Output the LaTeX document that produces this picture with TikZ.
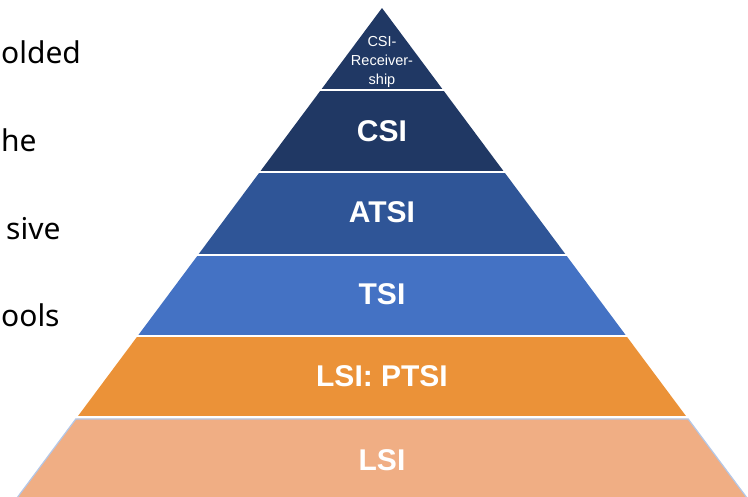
\documentclass[tikz,border=0pt]{standalone}
\usepackage{fontspec}
\setmainfont{Liberation Sans}
\newfontfamily\slidefont{Noto Sans}

\definecolor{navy}{HTML}{203864}
\definecolor{midblue}{HTML}{2F5597}
\definecolor{brightblue}{HTML}{4472C4}
\definecolor{deeporange}{HTML}{EB9238}
\definecolor{paleorange}{HTML}{F0AE84}
\definecolor{edgeblue}{HTML}{B4C7E7}

\begin{document}
\begin{tikzpicture}[x = 1pt, y = -1pt]
\tikzstyle{LayerLabel}=[text = white,
                        font = \fontsize{30}{36}\selectfont\bfseries,
                        inner sep = 0pt]
\tikzstyle{SlideText}=[anchor = base west,
                       font = \slidefont\fontsize{30}{36}\selectfont,
                       inner sep = 0pt]
\clip (0,0) rectangle (748,496);
\fill[white] (0,0) rectangle (748,496);
% layers: top/bottom/colour
\foreach \top/\bot/\col in {8/90/navy, 90/172/navy, 172/255/midblue, 255/336/brightblue, 336/418/deeporange}
   \fill[\col] ({382-(\top-8)*0.745}, \top) -- ({382+(\top-8)*0.745}, \top)
               -- ({382+(\bot-8)*0.745}, \bot) -- ({382-(\bot-8)*0.745}, \bot) -- cycle;
\filldraw[fill = paleorange, draw = edgeblue, line width = 1.2pt]
   ({382-(419-8)*0.745}, 419) -- ({382+(419-8)*0.745}, 419)
   -- ({382+(505-8)*0.745}, 505) -- ({382-(505-8)*0.745}, 505) -- cycle;
% white gaps
\foreach \y in {90, 172, 255, 336, 417}
   \draw[white, line width = 2pt] ({382-(\y-8)*0.745-3}, \y) -- ({382+(\y-8)*0.745+3}, \y);
% labels
\node[text = white, align = center, inner sep = 0pt,
      font = \fontsize{14.5}{19}\selectfont] (receiver) at (382, 62) {CSI-\\Receiver-\\ship};
\node[LayerLabel] (csi) at (382, 131) {CSI};
\node[LayerLabel] (atsi) at (382, 212) {ATSI};
\node[LayerLabel] (tsi) at (382, 294) {TSI};
\node[LayerLabel] (ptsi) at (382, 376) {LSI: PTSI};
\node[LayerLabel] (lsi) at (382, 460) {LSI};
% slide text at the left
\node[SlideText] (line1) at (1, 63) {olded};
\node[SlideText] (line2) at (1, 151) {he};
\node[SlideText] (line3) at (6, 239) {sive};
\node[SlideText] (line4) at (1, 326) {ools};
\end{tikzpicture}
\end{document}
